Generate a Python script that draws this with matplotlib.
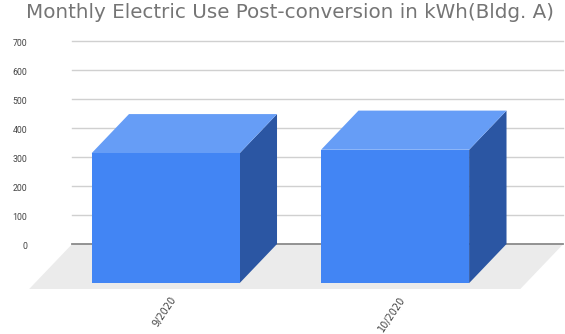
import matplotlib
matplotlib.use("Agg")
import matplotlib.pyplot as plt
from matplotlib.patches import Polygon
from matplotlib.transforms import blended_transform_factory

# data
months = ["9/2020", "10/2020"]
usage_kwh = [448, 460]
y_ticks = [0, 100, 200, 300, 400, 500, 600, 700]
title = "Monthly Electric Use Post-conversion in kWh(Bldg. A)"

# figure is 565x334 px, one axes over all of it
W, H = 565, 334
fig = plt.figure(figsize=(W / 100, H / 100), dpi=100)
ax = fig.add_axes([0, 0, 1, 1])

# pixel geometry of the back wall: category 0 centre at x=203px, 229.5px per category,
# value 0 at y=244px, 0.29px per kWh
px_per_cat = 229.5
px_per_val = 203 / 700
x0_px, y0_px = 203, 244
ax.set_xlim(-x0_px / px_per_cat, (W - x0_px) / px_per_cat)
ax.set_ylim(-(H - y0_px) / px_per_val, y0_px / px_per_val)
ax.axis("off")

# oblique depth: z=1 is the front edge of the floor
DX = -43 / px_per_cat
DY = -45 / px_per_val
bar_depth = 0.87
bar_w = 0.645
wall_l = -0.57
wall_r = len(months) - 1 + 0.57


def proj(x, y, z):
    return (x + z * DX, y + z * DY)


# floor
ax.add_patch(Polygon([proj(wall_l, 0, 0), proj(wall_r, 0, 0),
                      proj(wall_r, 0, 1), proj(wall_l, 0, 1)],
                     closed=True, fc="#ebebeb", ec="none", zorder=1))

# gridlines on back wall
for t in y_ticks[1:]:
    ax.plot([wall_l, wall_r], [t, t], color="#d0d0d0", lw=1.0, zorder=0.5)
ax.plot([wall_l, wall_r], [0, 0], color="#8a8a8a", lw=1.3, zorder=2)

# y tick labels
tr = blended_transform_factory(fig.transFigure, ax.transData)
for t in y_ticks:
    ax.text(27 / W, t - 8, str(t), transform=tr, ha="right", va="center",
            fontsize=6.3, color="#444444", family="Roboto")

# bars
for i, v in enumerate(usage_kwh):
    l, r = i - bar_w / 2, i + bar_w / 2
    z = bar_depth
    front = [proj(l, 0, z), proj(r, 0, z), proj(r, v, z), proj(l, v, z)]
    top = [proj(l, v, z), proj(r, v, z), proj(r, v, 0), proj(l, v, 0)]
    side = [proj(r, 0, z), proj(r, 0, 0), proj(r, v, 0), proj(r, v, z)]
    ax.add_patch(Polygon(side, closed=True, fc="#2b56a3", ec="none", zorder=3))
    ax.add_patch(Polygon(top, closed=True, fc="#669df6", ec="none", zorder=3))
    ax.add_patch(Polygon(front, closed=True, fc="#4285f4", ec="none", zorder=4))

# x labels under the floor front
for i, m in enumerate(months):
    x, y = proj(i, 0, 1)
    ax.annotate(m, (x, y), xytext=(7, -4), textcoords="offset points",
                rotation=56, rotation_mode="anchor", ha="right", va="top",
                fontsize=7, color="#444444", family="DejaVu Sans")

fig.text(289.5 / W, 1 - 17.5 / H, title, ha="center", va="baseline",
         fontsize=14.3, color="#757575", family="DejaVu Sans")

fig.savefig("out.png", dpi=100, facecolor="white")
